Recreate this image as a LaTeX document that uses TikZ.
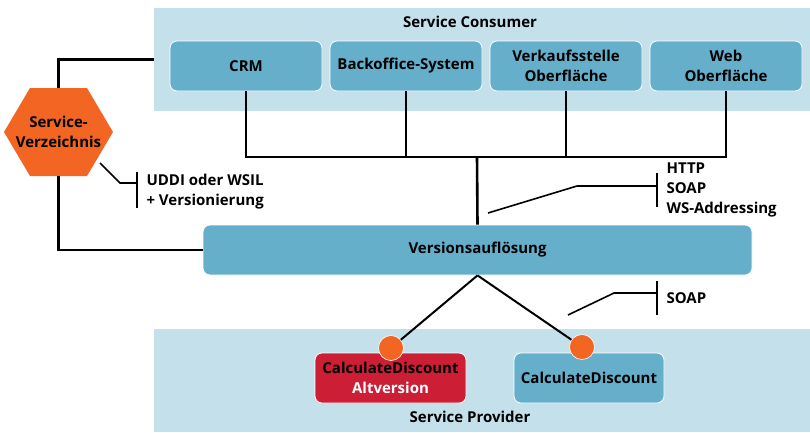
\documentclass[tikz,border=0pt]{standalone}
\usepackage{fontspec}
\setmainfont{Open Sans}
\definecolor{panelblue}{HTML}{C3E0EB}
\definecolor{boxblue}{HTML}{65AFCB}
\definecolor{svorange}{HTML}{F26522}
\definecolor{altred}{HTML}{CC1F36}
\begin{document}
\begin{tikzpicture}[x=1pt,y=-1pt,
  every node/.style={font=\fontsize{15}{20}\selectfont\bfseries},
  panel/.style={rectangle,fill=panelblue,minimum width=656pt,minimum height=103pt,inner sep=0pt},
  sbox/.style={rectangle,rounded corners=7pt,fill=boxblue,draw=white,line width=0.8pt,
    minimum width=152pt,minimum height=50pt,align=center,inner sep=2pt},
  hexbox/.style={minimum width=109pt,minimum height=88pt,align=center,
    path picture={\fill[svorange] (path picture bounding box.west)
      -- ([xshift=26pt]path picture bounding box.north west)
      -- ([xshift=-26pt]path picture bounding box.north east)
      -- (path picture bounding box.east)
      -- ([xshift=-26pt]path picture bounding box.south east)
      -- ([xshift=26pt]path picture bounding box.south west) -- cycle;}},
  port/.style={circle,fill=svorange,draw=white,line width=0.6pt,minimum size=25pt,inner sep=0pt},
  wire/.style={line width=2.6pt},
  note/.style={line width=1.6pt}]
\useasboundingbox (0,0) rectangle (810,432);
\node[panel] (consumer) at (482,59.5) {};
\node[panel] (provider) at (482,380.5) {};
\node (conlabel) at (470,22) {Service Consumer};
\node (provlabel) at (470,417) {Service Provider};
\node[sbox] (crm) at (246,66) {CRM};
\node[sbox] (backoffice) at (406,66) {Backoffice-System};
\node[sbox] (verkauf) at (566,66) {Verkaufsstelle\\Oberfläche};
\node[sbox] (web) at (726,66) {Web\\Oberfläche};
\node[sbox,minimum width=549pt] (versio) at (477.5,250) {Versionsauflösung};
\node[hexbox] (verz) at (58.5,132) {Service-\\Verzeichnis};
\node[sbox,fill=altred,minimum width=151pt] (altcalc) at (390.5,378)
  {CalculateDiscount\\\textcolor{white}{Altversion}};
\node[sbox,minimum width=150pt] (calc) at (589,378) {CalculateDiscount};
\node[port] (altport) at (391,348) {};
\node[port] (calcport) at (582,347) {};
\coordinate (bus) at (477,157);
\draw[wire] (crm.south) |- (bus) -| (web.south);
\draw[wire] (backoffice.south) -- (backoffice.south |- bus);
\draw[wire] (verkauf.south) -- (verkauf.south |- bus);
\draw[wire] (bus) -- (versio.north);
\draw[wire] (verz.north) |- (consumer.west);
\draw[wire] (verz.south) |- (versio.west);
\draw[note,line width=2pt] (versio.south) -- (altport);
\draw[note,line width=2pt] (versio.south) -- (calcport);
\coordinate (uddifrom) at (100,163);
\coordinate (uddibar) at (137,183);
\draw[note] (uddifrom) -- ++(20,20) -- (uddibar);
\draw[note] (137,172) -- (137,208);
\node[anchor=west,align=left] (uddi) at (143,192) {UDDI oder WSIL\\+ Versionierung};
\coordinate (httpfrom) at (488,213);
\coordinate (httpbar) at (657,186);
\draw[note] (httpfrom) -- (577,186) -- (httpbar);
\draw[note] (657,173) -- (657,207);
\node[anchor=west,align=left] (http) at (663,190) {HTTP\\SOAP\\WS-Addressing};
\coordinate (soapfrom) at (568,315);
\coordinate (soapbar) at (657,293);
\draw[note] (soapfrom) -- (614,293) -- (soapbar);
\draw[note] (657,281) -- (657,315);
\node[anchor=west] (soap) at (663,298) {SOAP};
\end{tikzpicture}
\end{document}
